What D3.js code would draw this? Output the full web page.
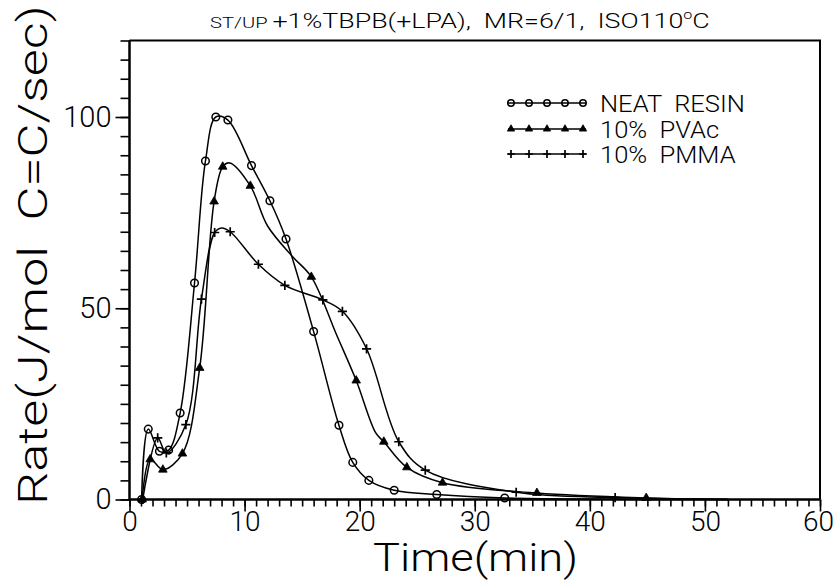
<!DOCTYPE html>
<html><head><meta charset="utf-8">
<script src="https://cdn.jsdelivr.net/npm/d3@7"></script>
<style>
body{margin:0;background:#fff}
text{font-family:Roboto,"Liberation Sans",sans-serif;font-weight:300;fill:#000}
</style>
</head><body>
<svg id="c" width="834" height="581"></svg>
<script>
// ---- data ----
const neatT=[1.05,1.63,2.6,3.4,4.4,5.65,6.6,7.5,8.55,10.6,12.2,13.6,16.0,18.2,19.4,20.8,23.0,26.7,32.6,40,52];
const neatR=[0,18.4,12.6,12.9,22.6,56.6,88.5,100,99.2,87.3,78.1,68.1,43.9,19.4,9.7,5.0,2.4,1.3,0.4,0.1,0];
const neatM=[1,1,1,1,1,1,1,1,1,1,1,1,1,1,1,1,1,1,1,0,0];

const pvacT=[1.1,1.8,2.9,4.6,6.1,7.35,8.1,8.7,10.5,12.0,14.2,15.8,18.0,19.7,21.4,22.1,24.1,27.2,35.4,44.9,52];
const pvacR=[0,10.5,7.8,12,34.4,77.9,87,88,82,71.5,63.4,58.2,43,31.1,17.4,15.1,8.4,4.4,1.7,0.4,0];
const pvacM=[1,1,1,1,1,1,1,0,1,0,0,1,0,1,0,1,1,1,1,1,0];

const pmmaT=[1.15,2.45,3.2,4.9,6.25,7.4,8.0,8.75,11.2,13.5,16.8,18.5,20.6,23.4,25.7,33.6,42.2,52];
const pmmaR=[0,16.1,12.2,19.6,52.4,69.8,71,70,61.5,56,52.2,49.2,39.4,15.1,7.7,1.9,0.5,0];
const pmmaM=[1,1,1,1,1,1,0,1,1,1,1,1,1,1,1,1,1,0];

const seriesNames=["NEAT  RESIN","10%  PVAc","10%  PMMA"];
const seriesSymbols=["circle","triangle","plus"];
const xMajorTicks=[0,10,20,30,40,50,60];
const yMajorTicks=[0,50,100];

// ---- layout ----
const svg=d3.select("#c");
const x=d3.scaleLinear().domain([0,60]).range([129.5,820]);
const y=d3.scaleLinear().domain([0,120]).range([499.5,40.5]);

const series=[
  {t:neatT,r:neatR,m:neatM},
  {t:pvacT,r:pvacR,m:pvacM},
  {t:pmmaT,r:pmmaR,m:pmmaM}
].map((s,i)=>({name:seriesNames[i],sym:seriesSymbols[i],
  pts:s.t.map((t,j)=>({t,r:s.r[j],m:s.m[j]}))}));

// frame (top & right)
svg.append("path").attr("d",`M${x(0)},${y(120)}H${x(60)}V${y(0)}`)
  .attr("fill","none").attr("stroke","#000").attr("stroke-width",2);

// x axis
const gx=svg.append("g").attr("transform",`translate(0,${y(0)})`);
gx.call(d3.axisBottom(x).tickValues(d3.range(0,61,1)).tickSize(7).tickFormat(""));
gx.append("g").call(d3.axisBottom(x).tickValues(xMajorTicks).tickSize(12).tickPadding(0).tickFormat(d3.format("d")));
gx.selectAll(".domain").attr("stroke-width",2);
gx.selectAll("line").attr("stroke-width",1.6);
gx.selectAll("text").attr("font-size",28).style("font-family","Roboto").style("font-weight",300);
gx.selectAll("text").filter(d=>d===60).attr("dx",-2);

// y axis
const gy=svg.append("g").attr("transform",`translate(${x(0)},0)`);
gy.call(d3.axisLeft(y).tickValues(d3.range(0,121,5)).tickSize(9).tickFormat(""));
gy.append("g").call(d3.axisLeft(y).tickValues(yMajorTicks).tickSize(14).tickPadding(4).tickFormat(d3.format("d")));
gy.selectAll(".domain").attr("stroke-width",2);
gy.selectAll("line").attr("stroke-width",1.6);
gy.selectAll("text").attr("font-size",29).style("font-family","Roboto").style("font-weight",300);
gx.selectAll("path.domain").attr("d",`M${x(0)},0H${x(60)}`);
gy.selectAll("path.domain").attr("d",`M0,${y(120)}V${y(0)}`);

// lines
const line=d3.line().x(d=>x(d.t)).y(d=>y(d.r)).curve(d3.curveCatmullRom.alpha(0.5));
svg.append("g").selectAll("path").data(series).join("path")
  .attr("d",d=>line(d.pts)).attr("fill","none").attr("stroke","#000").attr("stroke-width",1.5);

function drawSym(g,sym,cx,cy,s){
  if(sym==="circle"){
    g.append("circle").attr("cx",cx).attr("cy",cy).attr("r",3.8*s)
      .attr("fill","none").attr("stroke","#000").attr("stroke-width",1.5);
  }else if(sym==="triangle"){
    g.append("path").attr("transform",`translate(${cx},${cy})`)
      .attr("d",d3.symbol().type(d3.symbolTriangle).size(32*s*s)())
      .attr("fill","#000").attr("stroke","#000").attr("stroke-width",0.8);
  }else{
    const h=4.6*s;
    g.append("path").attr("d",`M${cx-h},${cy}H${cx+h}M${cx},${cy-h}V${cy+h}`)
      .attr("stroke","#000").attr("stroke-width",1.7);
  }
}
const mg=svg.append("g");
series.forEach(s=>s.pts.filter(p=>p.m).forEach(p=>drawSym(mg,s.sym,x(p.t),y(p.r),1)));

// legend
const lg=svg.append("g");
const legY=[103,129,154];
let legScale=1;
series.forEach((s,i)=>{
  const ly=legY[i];
  lg.append("line").attr("x1",508).attr("x2",586).attr("y1",ly).attr("y2",ly)
    .attr("stroke","#000").attr("stroke-width",1.5);
  [511,529,547,565,583].forEach(px=>drawSym(lg,s.sym,px,ly,0.85));
  const t=lg.append("text").attr("font-size",23).style("white-space","pre").text(s.name);
  if(i===0) legScale=145/t.node().getBBox().width;
  t.attr("transform",`translate(600,${ly+8.5}) scale(${legScale},1)`);
});

function fitX(sel,x0,y0,w){
  const bb=sel.node().getBBox();
  sel.attr("transform",`translate(${x0},${y0}) scale(${w/bb.width},1)`);
}

// title
const title=svg.append("text").attr("x",0).attr("y",0).style("white-space","pre");
title.append("tspan").attr("font-size",15).text("ST/UP ");
title.append("tspan").attr("font-size",20).text("+1%TBPB(+LPA),  MR=6/1,  ISO110");
title.append("tspan").attr("font-size",12).attr("dy",-9).text("o");
title.append("tspan").attr("font-size",20).attr("dy",9).text("C");
fitX(title,210,28,500);

// axis titles
const xl=svg.append("text").attr("font-size",38).text("Time(min)");
fitX(xl,373,571,205);

const yl=svg.append("text").attr("font-size",41).style("white-space","pre").text("Rate(J/mol  C=C/sec)");
const ybb=yl.node().getBBox();
yl.attr("transform",`translate(47,505) rotate(-90) scale(${500/ybb.width},1)`);
</script>
</body></html>
